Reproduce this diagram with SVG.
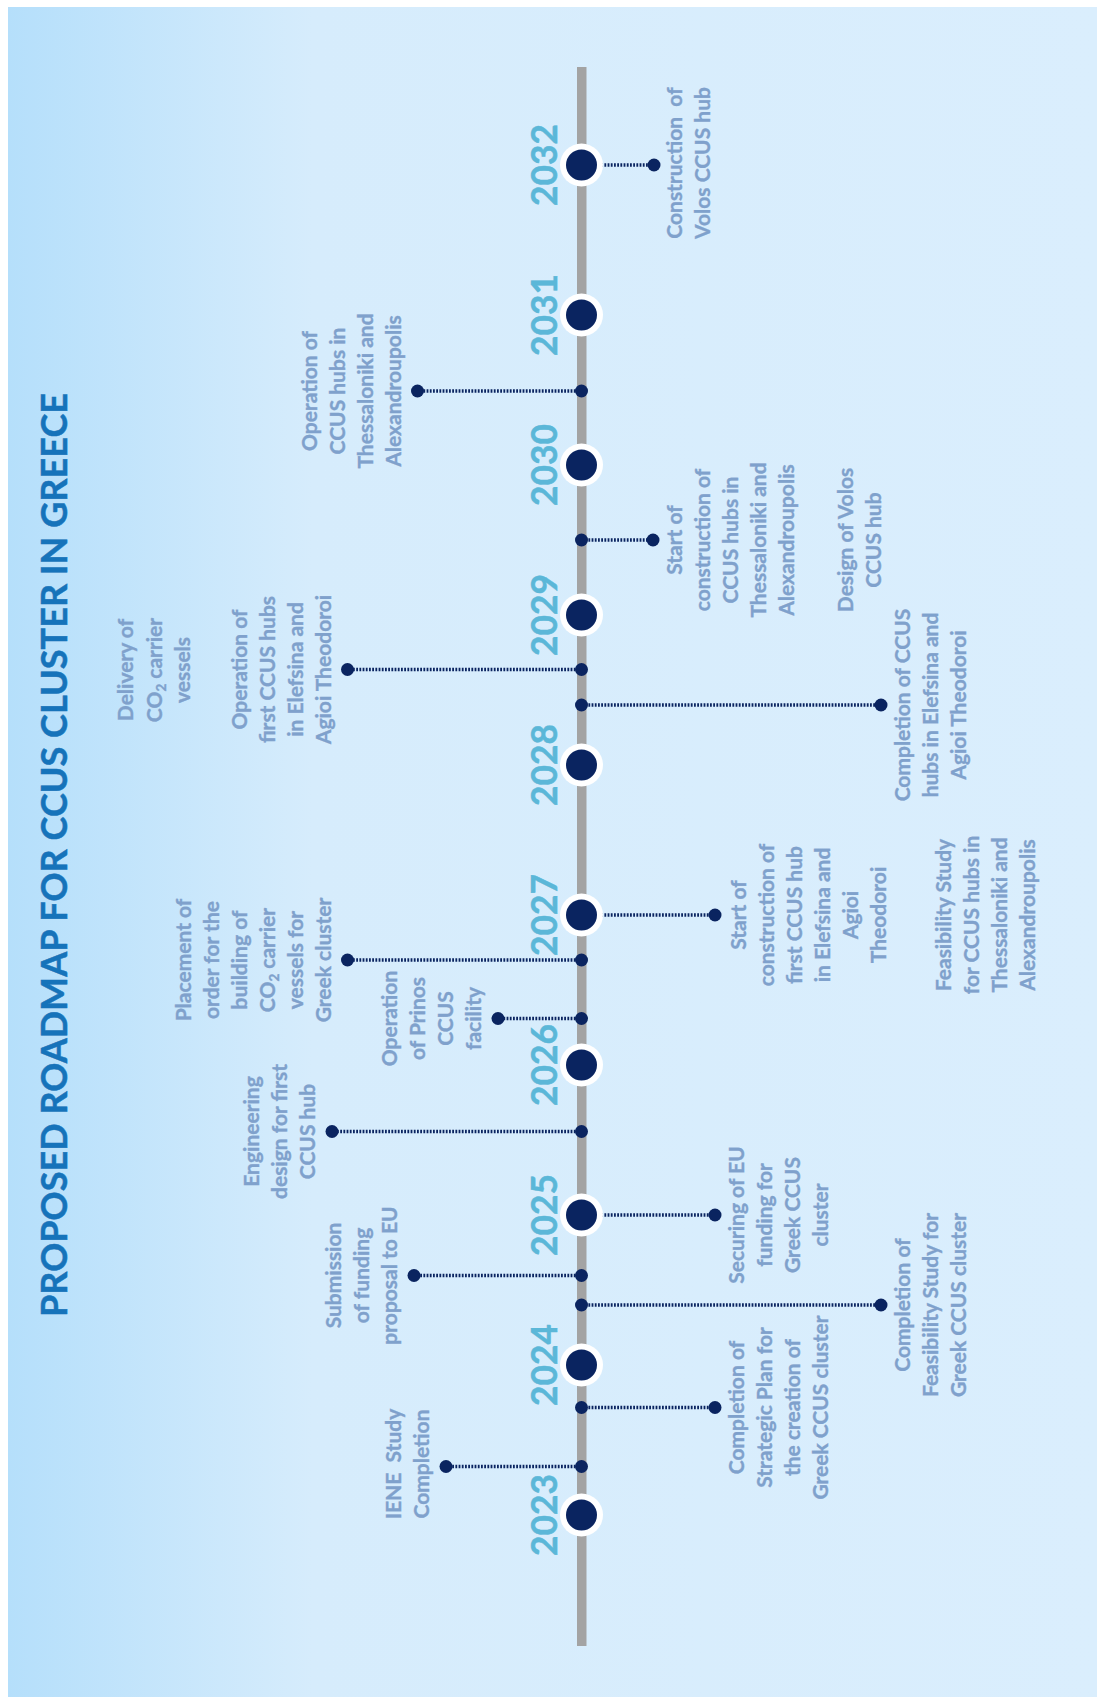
<svg xmlns="http://www.w3.org/2000/svg" width="1097" height="1697" viewBox="0 0 1097 1697">
  <defs>
    <linearGradient id="panelFill" x1="0" y1="0" x2="1" y2="0">
      <stop offset="0" stop-color="#b5dffb"/>
      <stop offset="0.28" stop-color="#d6ecfc"/>
      <stop offset="1" stop-color="#daeefd"/>
    </linearGradient>
    <style>
      .ttl { font-family: Lato, "Open Sans", "Liberation Sans", sans-serif; font-weight: 700; font-size: 36px; fill: #1673ba; stroke: #1673ba; stroke-width: 0.5px; text-anchor: middle; }
      .yr  { font-family: Lato, "Open Sans", "Liberation Sans", sans-serif; font-weight: 700; font-size: 37px; fill: #5bb7d8; stroke: #5bb7d8; stroke-width: 0.5px; text-anchor: middle; }
      .lbl { font-family: Lato, "Open Sans", "Liberation Sans", sans-serif; font-weight: 700; font-size: 21px; fill: #7fa1cc; stroke: #7fa1cc; stroke-width: 0.35px; text-anchor: middle; }
      .sub { font-size: 13.5px; }
      .conn { stroke: #0a2460; stroke-width: 3.4; stroke-dasharray: 1.8 1.4; fill: none; }
      .dot { fill: #0a2460; }
      .ring { fill: #ffffff; }
      .core { fill: #0a2460; }
    </style>
  </defs>

  <!-- page and panel -->
  <rect x="0" y="0" width="1097" height="1697" fill="#ffffff"/>
  <rect x="8" y="7" width="1089" height="1690" fill="url(#panelFill)"/>

  <!-- title, reading bottom to top -->
  <text id="title" class="ttl" transform="translate(67,855) rotate(-90)" textLength="924" lengthAdjust="spacing">PROPOSED ROADMAP FOR CCUS CLUSTER IN GREECE</text>

  <!-- time axis -->
  <rect id="axis" x="577" y="67" width="9.5" height="1579" fill="#a3a3a3"/>

  <!-- dotted connectors from the axis to each milestone -->
  <g id="connectors">
    <line class="conn" x1="582" y1="165" x2="654" y2="165"/>
    <line class="conn" x1="582" y1="391" x2="417.5" y2="391"/>
    <line class="conn" x1="582" y1="540" x2="653" y2="540"/>
    <line class="conn" x1="582" y1="669.5" x2="347.5" y2="669.5"/>
    <line class="conn" x1="582" y1="705" x2="881" y2="705"/>
    <line class="conn" x1="582" y1="915" x2="715" y2="915"/>
    <line class="conn" x1="582" y1="960" x2="347.5" y2="960"/>
    <line class="conn" x1="582" y1="1018.5" x2="498" y2="1018.5"/>
    <line class="conn" x1="582" y1="1131.5" x2="332" y2="1131.5"/>
    <line class="conn" x1="582" y1="1215" x2="715" y2="1215"/>
    <line class="conn" x1="582" y1="1275.5" x2="414" y2="1275.5"/>
    <line class="conn" x1="582" y1="1305" x2="881" y2="1305"/>
    <line class="conn" x1="582" y1="1407.5" x2="715" y2="1407.5"/>
    <line class="conn" x1="582" y1="1466.5" x2="446" y2="1466.5"/>
  </g>

  <!-- year markers -->
  <g id="y2032"><circle class="ring" cx="581.5" cy="165" r="21.5"/><circle class="core" cx="581.5" cy="165" r="15.5"/><text class="yr" transform="translate(557,165) rotate(-90)" textLength="82" lengthAdjust="spacingAndGlyphs">2032</text></g>
  <g id="y2031"><circle class="ring" cx="581.5" cy="315" r="21.5"/><circle class="core" cx="581.5" cy="315" r="15.5"/><text class="yr" transform="translate(557,315) rotate(-90)" textLength="82" lengthAdjust="spacingAndGlyphs">2031</text></g>
  <g id="y2030"><circle class="ring" cx="581.5" cy="465" r="21.5"/><circle class="core" cx="581.5" cy="465" r="15.5"/><text class="yr" transform="translate(557,465) rotate(-90)" textLength="82" lengthAdjust="spacingAndGlyphs">2030</text></g>
  <g id="y2029"><circle class="ring" cx="581.5" cy="615" r="21.5"/><circle class="core" cx="581.5" cy="615" r="15.5"/><text class="yr" transform="translate(557,615) rotate(-90)" textLength="82" lengthAdjust="spacingAndGlyphs">2029</text></g>
  <g id="y2028"><circle class="ring" cx="581.5" cy="765" r="21.5"/><circle class="core" cx="581.5" cy="765" r="15.5"/><text class="yr" transform="translate(557,765) rotate(-90)" textLength="82" lengthAdjust="spacingAndGlyphs">2028</text></g>
  <g id="y2027"><circle class="ring" cx="581.5" cy="915" r="21.5"/><circle class="core" cx="581.5" cy="915" r="15.5"/><text class="yr" transform="translate(557,915) rotate(-90)" textLength="82" lengthAdjust="spacingAndGlyphs">2027</text></g>
  <g id="y2026"><circle class="ring" cx="581.5" cy="1065" r="21.5"/><circle class="core" cx="581.5" cy="1065" r="15.5"/><text class="yr" transform="translate(557,1065) rotate(-90)" textLength="82" lengthAdjust="spacingAndGlyphs">2026</text></g>
  <g id="y2025"><circle class="ring" cx="581.5" cy="1215" r="21.5"/><circle class="core" cx="581.5" cy="1215" r="15.5"/><text class="yr" transform="translate(557,1215) rotate(-90)" textLength="82" lengthAdjust="spacingAndGlyphs">2025</text></g>
  <g id="y2024"><circle class="ring" cx="581.5" cy="1365" r="21.5"/><circle class="core" cx="581.5" cy="1365" r="15.5"/><text class="yr" transform="translate(557,1365) rotate(-90)" textLength="82" lengthAdjust="spacingAndGlyphs">2024</text></g>
  <g id="y2023"><circle class="ring" cx="581.5" cy="1515" r="21.5"/><circle class="core" cx="581.5" cy="1515" r="15.5"/><text class="yr" transform="translate(557,1515) rotate(-90)" textLength="82" lengthAdjust="spacingAndGlyphs">2023</text></g>

  <!-- milestones: rotated text blocks; in the rotated frame x = -centre y, y = baseline x -->
  <g id="volos-construction">
    <circle class="dot" cx="654" cy="165" r="6.5"/>
    <text class="lbl" transform="rotate(-90)"><tspan x="-163" y="682">Construction&#160; of</tspan><tspan x="-163" y="710">Volos CCUS hub</tspan></text>
  </g>
  <g id="north-hubs-operation">
    <circle class="dot" cx="581.5" cy="391" r="6.5"/><circle class="dot" cx="417.5" cy="391" r="6.5"/>
    <text class="lbl" transform="rotate(-90)"><tspan x="-391" y="316.5">Operation of</tspan><tspan x="-391" y="344.5">CCUS hubs in</tspan><tspan x="-391" y="372.5">Thessaloniki and</tspan><tspan x="-391" y="400.5">Alexandroupolis</tspan></text>
  </g>
  <g id="north-hubs-construction">
    <circle class="dot" cx="581.5" cy="540" r="6.5"/><circle class="dot" cx="653" cy="540" r="6.5"/>
    <text class="lbl" transform="rotate(-90)"><tspan x="-540" y="682">Start of</tspan><tspan x="-540" y="710">construction of</tspan><tspan x="-540" y="738">CCUS hubs in</tspan><tspan x="-540" y="766">Thessaloniki and</tspan><tspan x="-540" y="794">Alexandroupolis</tspan></text>
  </g>
  <g id="volos-design">
    <text class="lbl" transform="rotate(-90)"><tspan x="-540" y="853">Design of Volos</tspan><tspan x="-540" y="881">CCUS hub</tspan></text>
  </g>
  <g id="vessel-delivery">
    <text class="lbl" transform="rotate(-90)"><tspan x="-670" y="133">Delivery of</tspan><tspan x="-670" y="161.5">CO<tspan class="sub" dy="4">2</tspan><tspan dy="-4"> carrier</tspan></tspan><tspan x="-670" y="190">vessels</tspan></text>
  </g>
  <g id="first-hubs-operation">
    <circle class="dot" cx="581.5" cy="669.5" r="6.5"/><circle class="dot" cx="347.5" cy="669.5" r="6.5"/>
    <text class="lbl" transform="rotate(-90)"><tspan x="-669.5" y="246.5">Operation of</tspan><tspan x="-669.5" y="274.5">first CCUS hubs</tspan><tspan x="-669.5" y="302.5">in Elefsina and</tspan><tspan x="-669.5" y="330.5">Agioi Theodoroi</tspan></text>
  </g>
  <g id="first-hubs-completion">
    <circle class="dot" cx="581.5" cy="705" r="6.5"/><circle class="dot" cx="881" cy="705" r="6.5"/>
    <text class="lbl" transform="rotate(-90)"><tspan x="-705" y="910">Completion of CCUS</tspan><tspan x="-705" y="938">hubs in Elefsina and</tspan><tspan x="-705" y="966">Agioi Theodoroi</tspan></text>
  </g>
  <g id="first-hub-construction">
    <circle class="dot" cx="715" cy="915" r="6.5"/>
    <text class="lbl" transform="rotate(-90)"><tspan x="-915" y="746">Start of</tspan><tspan x="-915" y="774">construction of</tspan><tspan x="-915" y="802">first CCUS hub</tspan><tspan x="-915" y="830">in Elefsina and</tspan><tspan x="-915" y="858">Agioi</tspan><tspan x="-915" y="886">Theodoroi</tspan></text>
  </g>
  <g id="north-hubs-feasibility">
    <text class="lbl" transform="rotate(-90)"><tspan x="-915" y="951">Feasibility Study</tspan><tspan x="-915" y="979">for CCUS hubs in</tspan><tspan x="-915" y="1007">Thessaloniki and</tspan><tspan x="-915" y="1035">Alexandroupolis</tspan></text>
  </g>
  <g id="vessel-order">
    <circle class="dot" cx="581.5" cy="960" r="6.5"/><circle class="dot" cx="347.5" cy="960" r="6.5"/>
    <text class="lbl" transform="rotate(-90)"><tspan x="-960" y="190.5">Placement of</tspan><tspan x="-960" y="218.5">order for the</tspan><tspan x="-960" y="246.5">building of</tspan><tspan x="-960" y="274.5">CO<tspan class="sub" dy="4">2</tspan><tspan dy="-4"> carrier</tspan></tspan><tspan x="-960" y="302.5">vessels for</tspan><tspan x="-960" y="330.5">Greek cluster</tspan></text>
  </g>
  <g id="prinos-operation">
    <circle class="dot" cx="581.5" cy="1018.5" r="6.5"/><circle class="dot" cx="498" cy="1018.5" r="6.5"/>
    <text class="lbl" transform="rotate(-90)"><tspan x="-1018.5" y="397">Operation</tspan><tspan x="-1018.5" y="425">of Prinos</tspan><tspan x="-1018.5" y="453">CCUS</tspan><tspan x="-1018.5" y="481">facility</tspan></text>
  </g>
  <g id="engineering-design">
    <circle class="dot" cx="581.5" cy="1131.5" r="6.5"/><circle class="dot" cx="332" cy="1131.5" r="6.5"/>
    <text class="lbl" transform="rotate(-90)"><tspan x="-1131.5" y="259">Engineering</tspan><tspan x="-1131.5" y="287">design for first</tspan><tspan x="-1131.5" y="315">CCUS hub</tspan></text>
  </g>
  <g id="eu-funding">
    <circle class="dot" cx="715" cy="1215" r="6.5"/>
    <text class="lbl" transform="rotate(-90)"><tspan x="-1215" y="744">Securing of EU</tspan><tspan x="-1215" y="772">funding for</tspan><tspan x="-1215" y="800">Greek CCUS</tspan><tspan x="-1215" y="828">cluster</tspan></text>
  </g>
  <g id="funding-proposal">
    <circle class="dot" cx="581.5" cy="1275.5" r="6.5"/><circle class="dot" cx="414" cy="1275.5" r="6.5"/>
    <text class="lbl" transform="rotate(-90)"><tspan x="-1275.5" y="341">Submission</tspan><tspan x="-1275.5" y="369">of funding</tspan><tspan x="-1275.5" y="397">proposal to EU</tspan></text>
  </g>
  <g id="cluster-feasibility">
    <circle class="dot" cx="581.5" cy="1305" r="6.5"/><circle class="dot" cx="881" cy="1305" r="6.5"/>
    <text class="lbl" transform="rotate(-90)"><tspan x="-1305" y="910">Completion of</tspan><tspan x="-1305" y="938">Feasibility Study for</tspan><tspan x="-1305" y="966">Greek CCUS cluster</tspan></text>
  </g>
  <g id="strategic-plan">
    <circle class="dot" cx="581.5" cy="1407.5" r="6.5"/><circle class="dot" cx="715" cy="1407.5" r="6.5"/>
    <text class="lbl" transform="rotate(-90)"><tspan x="-1407.5" y="744">Completion of</tspan><tspan x="-1407.5" y="772">Strategic Plan for</tspan><tspan x="-1407.5" y="800">the creation of</tspan><tspan x="-1407.5" y="828">Greek CCUS cluster</tspan></text>
  </g>
  <g id="iene-study">
    <circle class="dot" cx="581.5" cy="1466.5" r="6.5"/><circle class="dot" cx="446" cy="1466.5" r="6.5"/>
    <text class="lbl" transform="rotate(-90)"><tspan x="-1464" y="401">IENE&#160; Study</tspan><tspan x="-1464" y="429">Completion</tspan></text>
  </g>
</svg>
